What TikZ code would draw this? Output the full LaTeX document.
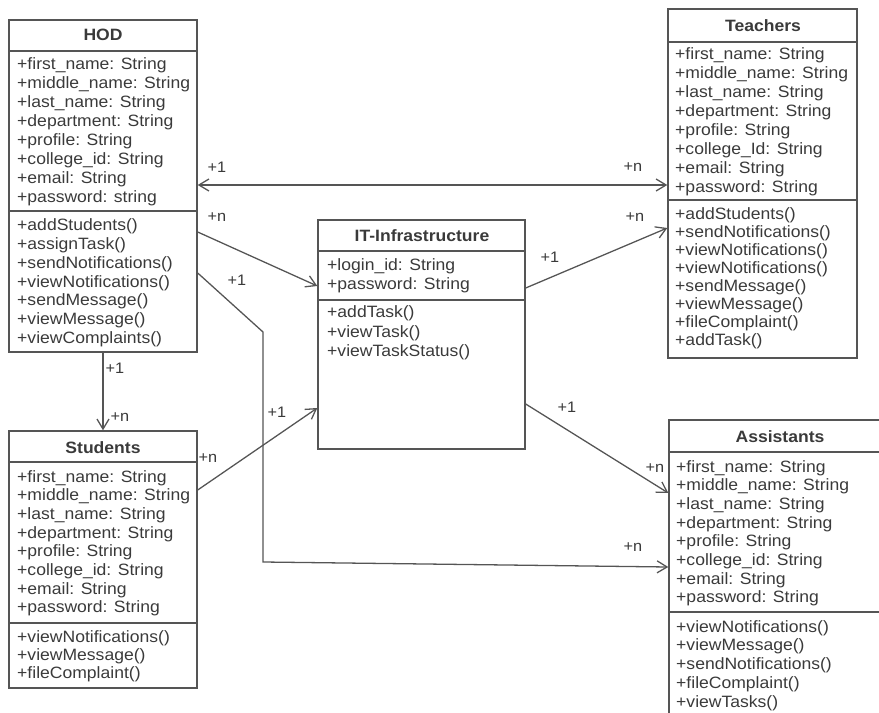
\documentclass[tikz,border=0pt]{standalone}
\usepackage{fontspec}
\setmainfont{Liberation Sans}[FakeStretch=1.07]
\usepackage{tikz}
\usetikzlibrary{arrows.meta}
\usetikzlibrary{fit}
\definecolor{umlink}{HTML}{3A3A3A}
\definecolor{umlline}{HTML}{555555}

\tikzset{
  >={Straight Barb[length=3mm,width=3.6mm]},
  classbox/.style={draw=umlline, line width=1.2pt, inner sep=0pt, fit={#1}},
  divider/.style={draw=umlline, line width=1.2pt},
  member/.style={anchor=base west, inner sep=0pt, text=umlink, font=\fontsize{14}{16}\selectfont},
  classname/.style={anchor=base, inner sep=0pt, text=umlink, font=\bfseries\fontsize{14}{16}\selectfont},
  mult/.style={inner sep=0pt, text=umlink, font=\fontsize{13}{15}\selectfont},
  assoc/.style={draw=umlline, line width=1.1pt, ->},
}

\begin{document}
\begin{tikzpicture}[x=0.03cm,y=-0.03cm]
    \useasboundingbox (0,0) rectangle (879,713);
    \clip (0,0) rectangle (879,713);

    % class boxes
    \node[classbox={(9,20) (197,352)}] (hod) {};
    \node[classbox={(668,9) (857,358)}] (teach) {};
    \node[classbox={(9,431) (197,688)}] (stud) {};
    \node[classbox={(669,420) (891,740)}] (asst) {};
    \node[classbox={(318,220) (525,449)}] (it) {};

    \draw[divider] (hod.west |- 0,51) -- (hod.east |- 0,51);
    \draw[divider] (hod.west |- 0,211) -- (hod.east |- 0,211);
    \draw[divider] (teach.west |- 0,42) -- (teach.east |- 0,42);
    \draw[divider] (teach.west |- 0,200) -- (teach.east |- 0,200);
    \draw[divider] (stud.west |- 0,462) -- (stud.east |- 0,462);
    \draw[divider] (stud.west |- 0,623) -- (stud.east |- 0,623);
    \draw[divider] (asst.west |- 0,452) -- (asst.east |- 0,452);
    \draw[divider] (asst.west |- 0,612) -- (asst.east |- 0,612);
    \draw[divider] (it.west |- 0,251) -- (it.east |- 0,251);
    \draw[divider] (it.west |- 0,300) -- (it.east |- 0,300);

    % names
    \node[classname] (hodN) at (103,41) {HOD};
    \node[classname] (teachN) at (763,32) {Teachers};
    \node[classname] (studN) at (103,453) {Students};
    \node[classname] (asstN) at (780,442) {Assistants};
    \node[classname] (itN) at (422,242) {IT-Infrastructure};

    % HOD
    \foreach \m [count=\i from 0] in {+first\_name: String, +middle\_name: String,
      +last\_name: String, +department: String, +profile: String,
      +college\_id: String, +email: String, +password: string}
      \node[member] (hodA\i) at (17,70+\i*18.9) {\m};
    \foreach \m [count=\i from 0] in {+addStudents(), +assignTask(), +sendNotifications(),
      +viewNotifications(), +sendMessage(), +viewMessage(), +viewComplaints()}
      \node[member] (hodM\i) at (17,231+\i*18.7) {\m};

    % Teachers
    \foreach \m [count=\i from 0] in {+first\_name: String, +middle\_name: String,
      +last\_name: String, +department: String, +profile: String,
      +college\_Id: String, +email: String, +password: String}
      \node[member] (teachA\i) at (675,60+\i*18.9) {\m};
    \foreach \m [count=\i from 0] in {+addStudents(), +sendNotifications(), +viewNotifications(),
      +viewNotifications(), +sendMessage(), +viewMessage(), +fileComplaint(), +addTask()}
      \node[member] (teachM\i) at (675,220+\i*17.9) {\m};

    % Students
    \foreach \m [count=\i from 0] in {+first\_name: String, +middle\_name: String,
      +last\_name: String, +department: String, +profile: String,
      +college\_id: String, +email: String, +password: String}
      \node[member] (studA\i) at (17,482+\i*18.7) {\m};
    \foreach \m [count=\i from 0] in {+viewNotifications(), +viewMessage(), +fileComplaint()}
      \node[member] (studM\i) at (17,642+\i*18) {\m};

    % Assistants
    \foreach \m [count=\i from 0] in {+first\_name: String, +middle\_name: String,
      +last\_name: String, +department: String, +profile: String,
      +college\_id: String, +email: String, +password: String}
      \node[member] (asstA\i) at (676,472+\i*18.7) {\m};
    \foreach \m [count=\i from 0] in {+viewNotifications(), +viewMessage(), +sendNotifications(),
      +fileComplaint(), +viewTasks()}
      \node[member] (asstM\i) at (676,632+\i*18.75) {\m};

    % IT-Infrastructure
    \node[member] (itA0) at (327,271) {+login\_id: String};
    \node[member] (itA1) at (327,290) {+password: String};
    \foreach \m [count=\i from 0] in {+addTask(), +viewTask(), +viewTaskStatus()}
      \node[member] (itM\i) at (327,318+\i*19) {\m};

    % associations
    \coordinate (bendA) at (263,332);
    \coordinate (bendB) at (263,562);
    \draw[assoc, <->] (hod.east |- 0,185) -- (teach.west |- 0,185);
    \draw[assoc] (hod.east |- 0,232) -- (it.west |- 0,286);
    \draw[assoc] (hod.east |- 0,273) -- (bendA) -- (bendB) -- (asst.west |- 0,567);
    \draw[assoc] (hod.south) -- (stud.north);
    \draw[assoc] (stud.east |- 0,490) -- (it.west |- 0,408);
    \draw[assoc] (it.east |- 0,288) -- (teach.west |- 0,228);
    \draw[assoc] (it.east |- 0,404) -- (asst.west |- 0,493);

    % multiplicities
    \node[mult] (m1a) at (217,167) {+1};
    \node[mult] (m1b) at (633,167) {+n};
    \node[mult] (m2a) at (217,217) {+n};
    \node[mult] (m3a) at (237,280) {+1};
    \node[mult] (m3b) at (633,547) {+n};
    \node[mult] (m4a) at (115,368) {+1};
    \node[mult] (m4b) at (120,417) {+n};
    \node[mult] (m5a) at (208,458) {+n};
    \node[mult] (m5b) at (277,412) {+1};
    \node[mult] (m6a) at (550,257) {+1};
    \node[mult] (m6b) at (635,217) {+n};
    \node[mult] (m7a) at (567,407) {+1};
    \node[mult] (m7b) at (655,468) {+n};
  \end{tikzpicture}
\end{document}
